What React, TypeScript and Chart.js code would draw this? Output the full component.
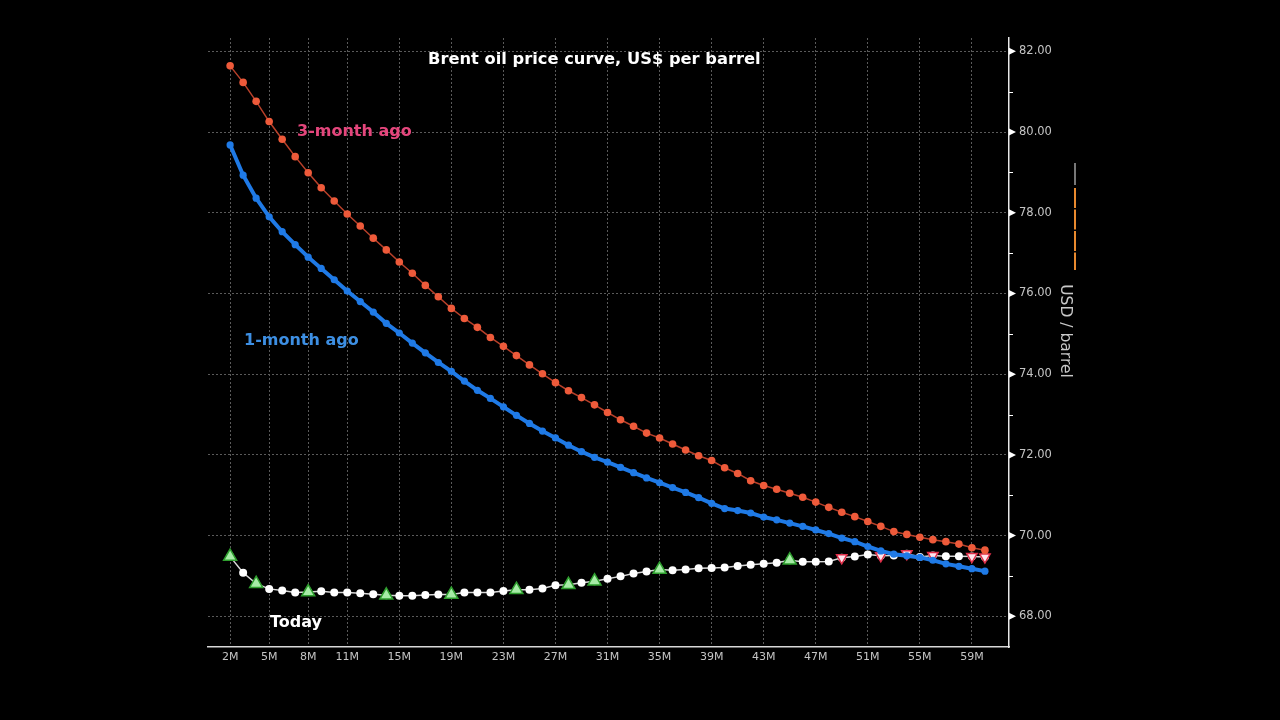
import React, { useEffect, useRef } from "react";
import { Chart, registerables } from "chart.js";

Chart.register(...registerables);

// Contract tenor (months ahead)
const months = [
  2, 3, 4, 5, 6, 7, 8, 9, 10, 11, 12, 13, 14, 15, 16, 17, 18, 19, 20, 21,
  22, 23, 24, 25, 26, 27, 28, 29, 30, 31, 32, 33, 34, 35, 36, 37, 38, 39, 40, 41,
  42, 43, 44, 45, 46, 47, 48, 49, 50, 51, 52, 53, 54, 55, 56, 57, 58, 59, 60,
];

const threeMonthAgo = [
  81.64, 81.23, 80.76, 80.26, 79.82, 79.39, 78.99, 78.62, 78.29, 77.97,
  77.67, 77.37, 77.08, 76.78, 76.5, 76.2, 75.92, 75.63, 75.38, 75.16,
  74.91, 74.69, 74.46, 74.23, 74.01, 73.79, 73.59, 73.42, 73.24, 73.05,
  72.87, 72.71, 72.54, 72.42, 72.27, 72.12, 71.98, 71.86, 71.68, 71.54,
  71.36, 71.24, 71.15, 71.05, 70.95, 70.83, 70.7, 70.58, 70.47, 70.35,
  70.23, 70.1, 70.03, 69.96, 69.9, 69.85, 69.79, 69.7, 69.64,
];

const oneMonthAgo = [
  79.68, 78.93, 78.36, 77.9, 77.53, 77.21, 76.9, 76.62, 76.34, 76.06,
  75.8, 75.54, 75.26, 75.02, 74.77, 74.53, 74.29, 74.07, 73.83, 73.6,
  73.4, 73.19, 72.98, 72.78, 72.59, 72.42, 72.24, 72.08, 71.94, 71.82,
  71.69, 71.56, 71.43, 71.31, 71.19, 71.07, 70.94, 70.8, 70.67, 70.62,
  70.56, 70.46, 70.39, 70.31, 70.23, 70.14, 70.05, 69.94, 69.85, 69.73,
  69.62, 69.54, 69.5, 69.46, 69.39, 69.3, 69.24, 69.18, 69.12,
];

const today = [
  69.48, 69.08, 68.81, 68.68, 68.64, 68.59, 68.6, 68.62, 68.59, 68.59,
  68.57, 68.55, 68.52, 68.51, 68.51, 68.53, 68.54, 68.54, 68.59, 68.59,
  68.59, 68.63, 68.66, 68.66, 68.69, 68.77, 68.78, 68.83, 68.87, 68.93,
  68.99, 69.06, 69.11, 69.16, 69.14, 69.16, 69.19, 69.2, 69.21, 69.25,
  69.28, 69.3, 69.33, 69.39, 69.35, 69.35, 69.36, 69.45, 69.48, 69.53,
  69.5, 69.51, 69.55, 69.47, 69.51, 69.49, 69.49, 69.48, 69.47,
];

// Months where today's curve carries an up / down marker
const upMarkerMonths = [2, 4, 8, 14, 19, 24, 28, 30, 35, 45];
const downMarkerMonths = [49, 52, 54, 56, 59, 60];

const xTickMonths = [2, 5, 8, 11, 15, 19, 23, 27, 31, 35, 39, 43, 47, 51, 55, 59];
const yMajorTicks = [68, 70, 72, 74, 76, 78, 80, 82];
const yMinorTicks = [69, 71, 73, 75, 77, 79, 81];

const titleText = "Brent oil price curve, US$ per barrel";
const yAxisTitle = "USD / barrel";
const labelThree = "3-month ago";
const labelOne = "1-month ago";
const labelToday = "Today";

export default function App() {
  const ref = useRef<HTMLCanvasElement | null>(null);

  useEffect(() => {
    if (!ref.current) return;
    const toPts = (vals: number[]) => months.map((m, i) => ({ x: m, y: vals[i] }));
    const markerPts = (list: number[]) =>
      list.map((m) => ({ x: m, y: today[months.indexOf(m)] }));

    const decor = {
      id: "decor",
      afterDraw(chart: any) {
        const ctx = chart.ctx as CanvasRenderingContext2D;
        const ys = chart.scales.y;
        const area = chart.chartArea;
        ctx.save();
        // Title and series labels
        ctx.textBaseline = "middle";
        ctx.textAlign = "left";
        ctx.font = 'bold 16.3px "DejaVu Sans"';
        ctx.fillStyle = "#ffffff";
        ctx.fillText(titleText, 428, 60);
        ctx.font = 'bold 16px "DejaVu Sans"';
        ctx.fillStyle = "#e4467c";
        ctx.fillText(labelThree, 297, 132);
        ctx.fillStyle = "#3d8fe3";
        ctx.fillText(labelOne, 244, 341);
        ctx.fillStyle = "#ffffff";
        ctx.fillText(labelToday, 270, 623);

        // Right axis tick markers
        const ax = area.right;
        ctx.fillStyle = "#ffffff";
        for (const v of yMajorTicks) {
          const y = ys.getPixelForValue(v);
          ctx.beginPath();
          ctx.moveTo(ax, y - 3.5);
          ctx.lineTo(ax + 7, y);
          ctx.lineTo(ax, y + 3.5);
          ctx.closePath();
          ctx.fill();
        }
        ctx.strokeStyle = "#ffffff";
        ctx.lineWidth = 1;
        for (const v of yMinorTicks) {
          const y = Math.round(ys.getPixelForValue(v)) + 0.5;
          ctx.beginPath();
          ctx.moveTo(ax, y);
          ctx.lineTo(ax + 4, y);
          ctx.stroke();
        }

        // Axis title, rotated
        ctx.save();
        ctx.translate(1065, 331);
        ctx.rotate(Math.PI / 2);
        ctx.textAlign = "center";
        ctx.textBaseline = "middle";
        ctx.font = '15.5px "DejaVu Sans"';
        ctx.fillStyle = "#c8c8c8";
        ctx.fillText(yAxisTitle, 0, 0);
        ctx.restore();

        // Small legend stub at right
        ctx.lineWidth = 2;
        ctx.strokeStyle = "#777777";
        ctx.beginPath();
        ctx.moveTo(1075, 163);
        ctx.lineTo(1075, 185);
        ctx.stroke();
        ctx.strokeStyle = "#e8892e";
        ctx.setLineDash([20, 1.5]);
        ctx.beginPath();
        ctx.moveTo(1075, 188);
        ctx.lineTo(1075, 270);
        ctx.stroke();
        ctx.restore();
      },
    };

    const chart = new Chart(ref.current, {
      type: "line",
      data: {
        datasets: [
          {
            label: "1-month ago",
            data: toPts(oneMonthAgo),
            borderColor: "#1f7ae6",
            borderWidth: 4,
            pointRadius: 3.6,
            pointBackgroundColor: "#1f7ae6",
            pointBorderWidth: 0,
            tension: 0,
          },
          {
            label: "3-month ago",
            data: toPts(threeMonthAgo),
            borderColor: "#b8402a",
            borderWidth: 1.5,
            pointRadius: 3.8,
            pointBackgroundColor: "#ee5a3a",
            pointBorderWidth: 0,
            tension: 0,
          },
          {
            label: "down",
            data: markerPts(downMarkerMonths),
            showLine: false,
            pointStyle: "triangle",
            rotation: 180,
            pointRadius: 6,
            pointBackgroundColor: "#ffe6ee",
            pointBorderColor: "#e0304a",
            pointBorderWidth: 1.5,
          },
          {
            label: "up",
            data: markerPts(upMarkerMonths),
            showLine: false,
            pointStyle: "triangle",
            pointRadius: 7.5,
            pointBackgroundColor: "#a6eca6",
            pointBorderColor: "#2e9e2e",
            pointBorderWidth: 1.5,
          },
          {
            label: "Today",
            data: toPts(today),
            borderColor: "#d8d8d8",
            borderWidth: 1.5,
            pointRadius: 4,
            pointBackgroundColor: "#ffffff",
            pointBorderWidth: 0,
            tension: 0,
          },
        ],
      },
      options: {
        responsive: false,
        animation: false,
        events: [],
        layout: { padding: { left: 208, top: 38, right: 0, bottom: 0 } },
        plugins: {
          legend: { display: false },
          tooltip: { enabled: false },
          title: { display: false },
        },
        scales: {
          x: {
            type: "linear",
            min: 0.3,
            max: 61.85,
            afterBuildTicks: (s: any) => {
              s.ticks = xTickMonths.map((v) => ({ value: v }));
            },
            afterFit: (s: any) => {
              s.height = 73;
            },
            grid: { color: "#5a5a5a", lineWidth: 1, drawTicks: false },
            border: { display: true, color: "#d8d8d8", width: 1.5, dash: [2, 2] },
            ticks: {
              color: "#c4c4c4",
              font: { family: "DejaVu Sans", size: 11 },
              padding: 4,
              maxRotation: 0,
              autoSkip: false,
              callback: (v: any) => `${v}M`,
            },
          },
          y: {
            position: "right",
            min: 67.24,
            max: 82.33,
            afterBuildTicks: (s: any) => {
              s.ticks = yMajorTicks.map((v) => ({ value: v }));
            },
            afterFit: (s: any) => {
              s.width = 271;
            },
            grid: { color: "#5a5a5a", lineWidth: 1, drawTicks: false },
            border: { display: true, color: "#e8e8e8", width: 1.5, dash: [2, 2] },
            ticks: {
              color: "#c4c4c4",
              font: { family: "DejaVu Sans", size: 11.5 },
              padding: 10,
              callback: (v: any) => Number(v).toFixed(2),
            },
          },
        },
      },
      plugins: [decor],
    } as any);

    return () => chart.destroy();
  }, []);

  return (
    <div
      style={{
        position: "fixed",
        left: 0,
        top: 0,
        width: 1280,
        height: 720,
        background: "#000000",
      }}
    >
      <canvas ref={ref} width={1280} height={720} style={{ display: "block" }} />
    </div>
  );
}
